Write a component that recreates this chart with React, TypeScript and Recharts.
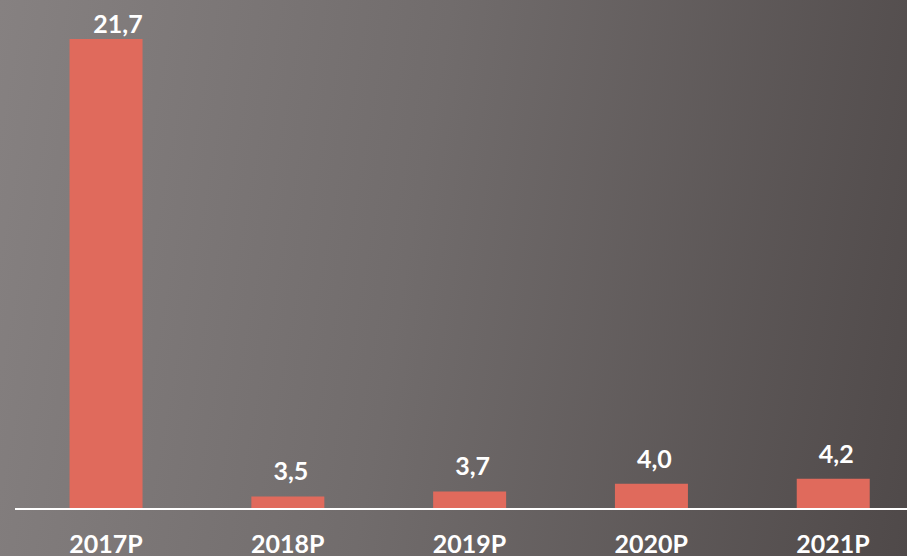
import { BarChart, Bar, XAxis, YAxis, LabelList } from 'recharts'

const years = ['2017P', '2018P', '2019P', '2020P', '2021P']
const values = [21.7, 3.5, 3.7, 4.0, 4.2]

const data = years.map((year, i) => ({ year, value: values[i] }))

const FONT = 'Lato, "Open Sans", sans-serif'

const ValueLabel = (props: any) => {
  const { x, y, width, value } = props
  const clamped = y - 16 < 33
  return (
    <text
      x={x + width / 2 + (clamped ? 12 : 3)}
      y={clamped ? 33 : y - 16}
      textAnchor="middle"
      fill="#ffffff"
      fontSize={25}
      fontWeight={700}
      fontFamily={FONT}
    >
      {value.toFixed(1).replace('.', ',')}
    </text>
  )
}

export default function App() {
  return (
    <div
      style={{
        position: 'absolute',
        left: 0,
        top: 0,
        width: 907,
        height: 556,
        overflow: 'hidden',
        background: 'linear-gradient(100deg, #868181 0%, #716c6c 45%, #4f4949 100%)'
      }}
    >
      <BarChart
        width={924}
        height={556}
        data={data}
        margin={{ top: 39, right: 0, left: 15, bottom: 0 }}
        barCategoryGap="30%"
      >
        <XAxis
          dataKey="year"
          height={47}
          axisLine={{ stroke: '#ffffff', strokeWidth: 2 }}
          tickLine={false}
          tickSize={0}
          tickMargin={26}
          tick={{ fill: '#ffffff', fontSize: 25, fontWeight: 700, fontFamily: FONT }}
          interval={0}
        />
        <YAxis hide domain={[3, 21.7]} allowDataOverflow />
        <Bar dataKey="value" fill="#e06a5c" isAnimationActive={false}>
          <LabelList dataKey="value" content={<ValueLabel />} />
        </Bar>
      </BarChart>
    </div>
  )
}
